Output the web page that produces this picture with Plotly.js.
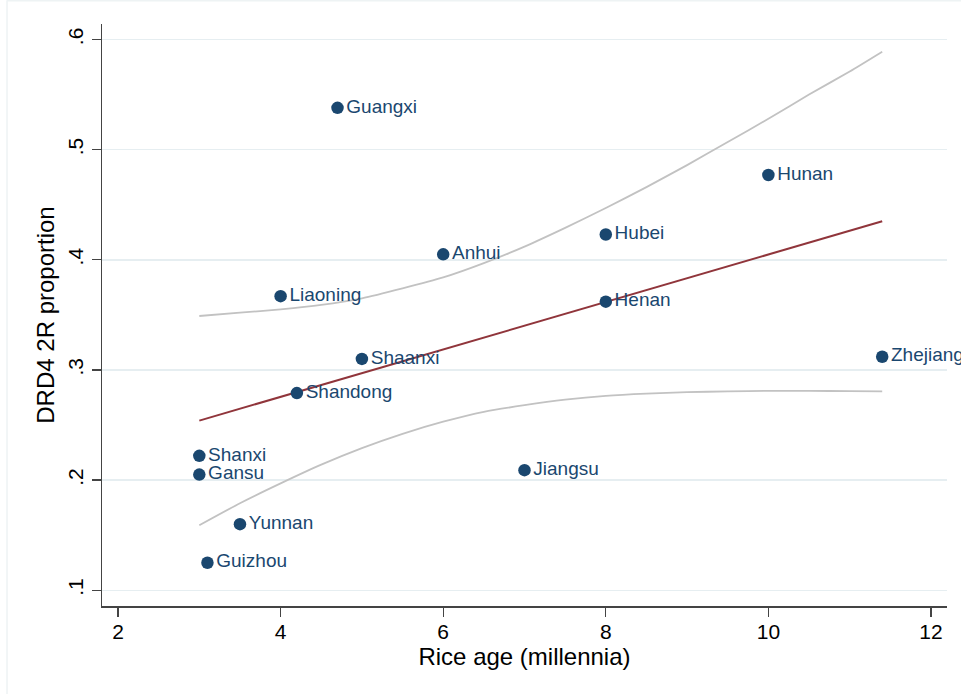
<!DOCTYPE html>
<html>
<head>
<meta charset="utf-8">
<script src="https://cdn.plot.ly/plotly-3.0.1.min.js"></script>
<style>html,body{margin:0;padding:0;background:#fff;}#chart{width:961px;height:694px;}</style>
</head>
<body>
<div id="chart"></div>
<script>
// Provinces (scatter points)
const provinces = ["Guangxi","Hunan","Hubei","Anhui","Liaoning","Henan","Shaanxi","Zhejiang","Shandong","Shanxi","Gansu","Jiangsu","Yunnan","Guizhou"];
const riceAge   = [4.7, 10.0, 8.0, 6.0, 4.0, 8.0, 5.0, 11.4, 4.2, 3.0, 3.0, 7.0, 3.5, 3.1];
const drd4      = [0.538, 0.477, 0.423, 0.405, 0.367, 0.362, 0.310, 0.312, 0.279, 0.222, 0.205, 0.209, 0.160, 0.125];

// Linear fit line
const fitX = [3.0, 11.4];
const fitY = [0.254, 0.435];

// 95% CI bounds
const ciX     = [3.0, 3.5, 4.0, 4.5, 5.0, 5.5, 6.0, 6.5, 7.0, 7.5, 8.0, 8.5, 9.0, 9.5, 10.0, 10.5, 11.0, 11.4];
const ciUpper = [0.349, 0.352, 0.355, 0.359, 0.365, 0.374, 0.384, 0.397, 0.412, 0.429, 0.447, 0.466, 0.486, 0.507, 0.528, 0.550, 0.571, 0.589];
const ciLower = [0.159, 0.179, 0.197, 0.214, 0.229, 0.242, 0.253, 0.262, 0.268, 0.273, 0.2765, 0.2785, 0.2798, 0.2806, 0.281, 0.281, 0.2808, 0.2805];

// Axis ticks
const xTickVals = [2, 4, 6, 8, 10, 12];
const yTickVals = [0.1, 0.2, 0.3, 0.4, 0.5, 0.6];
const yTickText = [".1", ".2", ".3", ".4", ".5", ".6"];

const FONT = "Liberation Sans, Arial, Helvetica, sans-serif";
const NAVY = "#1a476f";

const traces = [
  {x: ciX, y: ciUpper, mode: "lines", line: {color: "#c2c2c2", width: 1.8, shape: "spline", smoothing: 0.6}, hoverinfo: "skip", showlegend: false},
  {x: ciX, y: ciLower, mode: "lines", line: {color: "#c2c2c2", width: 1.8, shape: "spline", smoothing: 0.6}, hoverinfo: "skip", showlegend: false},
  {x: fitX, y: fitY, mode: "lines", line: {color: "#90353b", width: 2}, hoverinfo: "skip", showlegend: false},
  {x: riceAge, y: drd4, text: provinces, mode: "markers+text", textposition: "middle right",
   marker: {color: NAVY, size: 12.5}, textfont: {family: FONT, size: 19, color: NAVY},
   cliponaxis: false, showlegend: false}
];

const layout = {
  width: 961, height: 694,
  margin: {l: 102, r: 14, t: 24, b: 88, pad: 0},
  paper_bgcolor: "#ffffff", plot_bgcolor: "#ffffff",
  font: {family: FONT, color: "#000"},
  showlegend: false,
  xaxis: {
    range: [1.803, 12.197], tickvals: xTickVals, ticks: "outside", ticklen: 9, tickwidth: 1.3, tickcolor: "#444",
    showline: true, linecolor: "#444", linewidth: 1.5, showgrid: false, zeroline: false,
    tickfont: {family: FONT, size: 21, color: "#000"}, ticklabelstandoff: -3,
    title: {text: "Rice age (millennia)", font: {family: FONT, size: 24, color: "#000"}, standoff: 3},
    automargin: false
  },
  yaxis: {
    range: [0.0857, 0.6141], tickvals: yTickVals, ticktext: yTickText, tickangle: -90,
    ticks: "outside", ticklen: 9, tickwidth: 1.3, tickcolor: "#444",
    showline: true, linecolor: "#444", linewidth: 1.5,
    showgrid: true, gridcolor: "#e6eef1", gridwidth: 1.5, zeroline: false,
    tickfont: {family: FONT, size: 21, color: "#000"},
    title: {text: "DRD4 2R proportion", font: {family: FONT, size: 24, color: "#000"}, standoff: 2},
    automargin: false
  },
  shapes: [
    {type: "line", xref: "paper", yref: "paper", x0: -0.1124, x1: -0.1124, y0: -0.152, y1: 1.041, line: {color: "#eef3f4", width: 1.5}},
    {type: "line", xref: "paper", yref: "paper", x0: -0.1124, x1: 1.02, y0: 1.04, y1: 1.04, line: {color: "#eef3f4", width: 1.5}}
  ]
};

Plotly.newPlot("chart", traces, layout, {displayModeBar: false, staticPlot: true});
</script>
</body>
</html>
